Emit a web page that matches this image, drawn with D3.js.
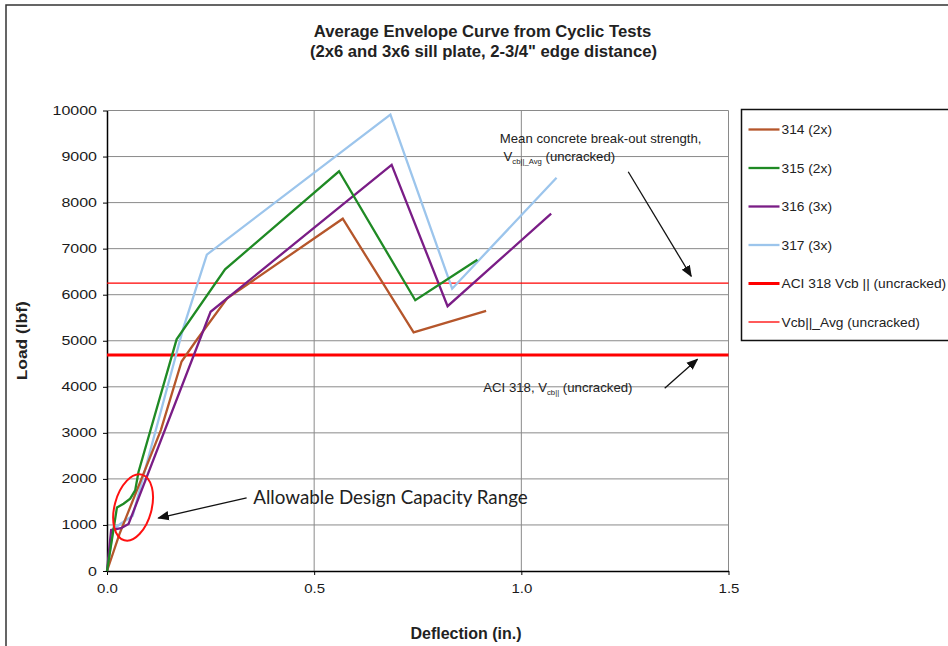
<!DOCTYPE html>
<html>
<head>
<meta charset="utf-8">
<script src="https://cdn.jsdelivr.net/npm/d3@7"></script>
<style>
  body { margin: 0; background: #fff; }
  svg { display: block; font-family: "Liberation Sans", Arial, sans-serif; }
</style>
</head>
<body>
<svg width="948" height="646"></svg>
<script>
// deflection (in.) / load (lbf)
const s314 = [[0,0],[0.03,800],[0.13,3060],[0.18,4550],[0.215,5000],[0.29,5920],[0.569,7650],[0.74,5180],[0.915,5650]];
const s315 = [[0,0],[0.024,1380],[0.04,1460],[0.056,1570],[0.068,1750],[0.076,2150],[0.168,5030],[0.285,6550],[0.56,8680],[0.744,5880],[0.894,6760]];
const s316 = [[0,0],[0.01,890],[0.034,930],[0.052,1020],[0.25,5630],[0.687,8820],[0.822,5750],[1.072,7760]];
const s317 = [[0,0],[0.015,910],[0.032,1020],[0.062,1200],[0.184,5270],[0.241,6870],[0.684,9910],[0.833,6130],[1.085,8540]];

const seriesNames = ["314 (2x)", "315 (2x)", "316 (3x)", "317 (3x)"];
const seriesColors = ["#b5562b", "#1f8a24", "#7a1d86", "#9cc5ec"];

const aciVcb = 4690;     // ACI 318 Vcb || (uncracked)
const vcbAvg = 6250;     // Vcb||_Avg (uncracked)

const xTicks = [0, 0.5, 1.0, 1.5];
const yTicks = d3.range(0, 10001, 1000);

const width = 948, height = 646;
const margin = {left: 107, right: 219, top: 110.5, bottom: 75};

let svg = d3.select("svg");

// the picture is a little wider than tall, so text gets a horizontal stretch
function wideText(parent, px, py, k) {
    return parent.append("text")
        .attr("transform", `translate(${px},${py}) scale(${k},1)`);
}

// outer frame
svg.append("rect")
    .attr("x", 6).attr("y", 5)
    .attr("width", 980).attr("height", 700)
    .attr("fill", "#fff")
    .attr("stroke", "#333").attr("stroke-width", 1.5);

let x = d3.scaleLinear().domain([0, 1.5]).range([margin.left, width - margin.right - 0.5]);
let y = d3.scaleLinear().domain([0, 10000]).range([height - margin.bottom, margin.top]);

// gridlines
svg.append("g")
    .selectAll("line")
    .data(yTicks.slice(1))
    .enter()
    .append("line")
    .attr("x1", x(0)).attr("x2", x(1.5))
    .attr("y1", d => y(d)).attr("y2", d => y(d))
    .attr("stroke", "#8a8a8a").attr("stroke-width", 1);

svg.append("g")
    .selectAll("line")
    .data(xTicks.slice(1))
    .enter()
    .append("line")
    .attr("x1", d => x(d)).attr("x2", d => x(d))
    .attr("y1", y(0)).attr("y2", y(10000))
    .attr("stroke", "#8a8a8a").attr("stroke-width", 1);

// axes
let xAxis = svg.append("g")
    .attr("transform", `translate(0,${y(0)})`)
    .call(d3.axisBottom(x).tickValues(xTicks).tickSize(4).tickSizeOuter(0).tickFormat(d3.format(".1f")));
let yAxis = svg.append("g")
    .attr("transform", `translate(${x(0)},0)`)
    .call(d3.axisLeft(y).tickValues(yTicks).tickSize(4).tickSizeOuter(0).tickFormat(d3.format("d")));

[xAxis, yAxis].forEach(a => {
    a.select(".domain").attr("stroke", "#000").attr("stroke-width", 1.5);
    a.selectAll(".tick line").attr("stroke", "#000");
    a.selectAll("text").attr("font-size", 12.5).attr("fill", "#1a1a1a").attr("font-family", "Liberation Sans, Arial, sans-serif");
});
xAxis.selectAll("text").attr("y", 13).attr("dy", "0.71em").attr("transform", "scale(1.2,1)");
yAxis.selectAll("text").attr("x", 0).attr("transform", "translate(-10,0) scale(1.28,1)");

// horizontal reference lines
svg.append("line")
    .attr("x1", x(0)).attr("x2", x(1.5))
    .attr("y1", y(vcbAvg)).attr("y2", y(vcbAvg))
    .attr("stroke", "#ff0000").attr("stroke-width", 1.3);
svg.append("line")
    .attr("x1", x(0)).attr("x2", x(1.5))
    .attr("y1", y(aciVcb)).attr("y2", y(aciVcb))
    .attr("stroke", "#ff0000").attr("stroke-width", 3);

// series
let line = d3.line().x(d => x(d[0])).y(d => y(d[1]));
let allSeries = [s314, s315, s316, s317];
[3, 0, 2, 1].forEach(i => {
    svg.append("path")
        .datum(allSeries[i])
        .attr("d", line)
        .attr("fill", "none")
        .attr("stroke", seriesColors[i])
        .attr("stroke-width", 2.3)
        .attr("stroke-linejoin", "miter");
});

// titles
wideText(svg, 482.5, 37, 1.04)
    .attr("text-anchor", "middle")
    .attr("font-size", 16).attr("font-weight", "bold").attr("fill", "#222")
    .text("Average Envelope Curve from Cyclic Tests");
wideText(svg, 483.5, 57, 1.04)
    .attr("text-anchor", "middle")
    .attr("font-size", 16).attr("font-weight", "bold").attr("fill", "#222")
    .text("(2x6 and 3x6 sill plate, 2-3/4\" edge distance)");

svg.append("text")
    .attr("transform", `translate(27,${(y(0) + y(10000)) / 2}) rotate(-90)`)
    .attr("text-anchor", "middle")
    .attr("font-size", 15).attr("font-weight", "bold").attr("fill", "#222")
    .attr("textLength", 79).attr("lengthAdjust", "spacingAndGlyphs")
    .text("Load (lbf)");
svg.append("text")
    .attr("x", 466).attr("y", 639)
    .attr("text-anchor", "middle")
    .attr("font-size", 16).attr("font-weight", "bold").attr("fill", "#222")
    .text("Deflection (in.)");

// annotations
let defs = svg.append("defs");
defs.append("marker")
    .attr("id", "arrow")
    .attr("viewBox", "0 0 10 10")
    .attr("refX", 9).attr("refY", 5)
    .attr("markerWidth", 9).attr("markerHeight", 9)
    .attr("orient", "auto")
    .append("path")
    .attr("d", "M0,1 L10,5 L0,9 Z")
    .attr("fill", "#111");

function arrow(x1, y1, x2, y2) {
    svg.append("line")
        .attr("x1", x(x1)).attr("y1", y(y1))
        .attr("x2", x(x2)).attr("y2", y(y2))
        .attr("stroke", "#111").attr("stroke-width", 1.3)
        .attr("marker-end", "url(#arrow)");
}

wideText(svg, x(0.948), y(9300), 1.1)
    .attr("font-size", 12).attr("fill", "#222")
    .text("Mean concrete break-out strength,");
let t1b = wideText(svg, x(0.957), y(8910), 1.1)
    .attr("font-size", 12).attr("fill", "#222");
t1b.append("tspan").text("V");
t1b.append("tspan").attr("font-size", 7).attr("dy", 3).text("cb||_Avg");
t1b.append("tspan").attr("dy", -3).text(" (uncracked)");
arrow(1.258, 8670, 1.41, 6400);

let t2 = wideText(svg, x(0.908), y(3880), 1.1)
    .attr("font-size", 12).attr("fill", "#222");
t2.append("tspan").text("ACI 318, V");
t2.append("tspan").attr("font-size", 7).attr("dy", 3).text("cb||");
t2.append("tspan").attr("dy", -3).text(" (uncracked)");
arrow(1.346, 3970, 1.425, 4600);

svg.append("text")
    .attr("x", x(0.353)).attr("y", y(1455))
    .attr("font-family", "Lato, 'Open Sans', sans-serif")
    .attr("font-size", 18.8).attr("fill", "#222")
    .text("Allowable Design Capacity Range");
arrow(0.337, 1590, 0.124, 1150);

svg.append("ellipse")
    .attr("transform", `translate(${x(0.063)},${y(1380)}) rotate(15)`)
    .attr("rx", 18.5).attr("ry", 34)
    .attr("fill", "none")
    .attr("stroke", "#ff1010").attr("stroke-width", 2);

// legend
let legendNames = seriesNames.concat(["ACI 318 Vcb || (uncracked)", "Vcb||_Avg (uncracked)"]);
let legendColors = seriesColors.concat(["#ff0000", "#ff0000"]);
let legendWidths = [2.3, 2.3, 2.3, 2.3, 3, 1.3];

let legend = svg.append("g").attr("transform", "translate(741.5,109.5)");
legend.append("rect")
    .attr("width", 260).attr("height", 231)
    .attr("fill", "#fff")
    .attr("stroke", "#111").attr("stroke-width", 1.5);

let items = legend.selectAll("g.item")
    .data(legendNames)
    .enter()
    .append("g")
    .attr("class", "item")
    .attr("transform", (d, i) => `translate(0,${20 + i * 38.5})`);
items.append("line")
    .attr("x1", 7).attr("x2", 38)
    .attr("stroke", (d, i) => legendColors[i])
    .attr("stroke-width", (d, i) => legendWidths[i]);
items.append("text")
    .attr("transform", "translate(40,0) scale(1.06,1)")
    .attr("dy", "0.35em")
    .attr("font-size", 13).attr("fill", "#222")
    .text(d => d);
</script>
</body>
</html>
